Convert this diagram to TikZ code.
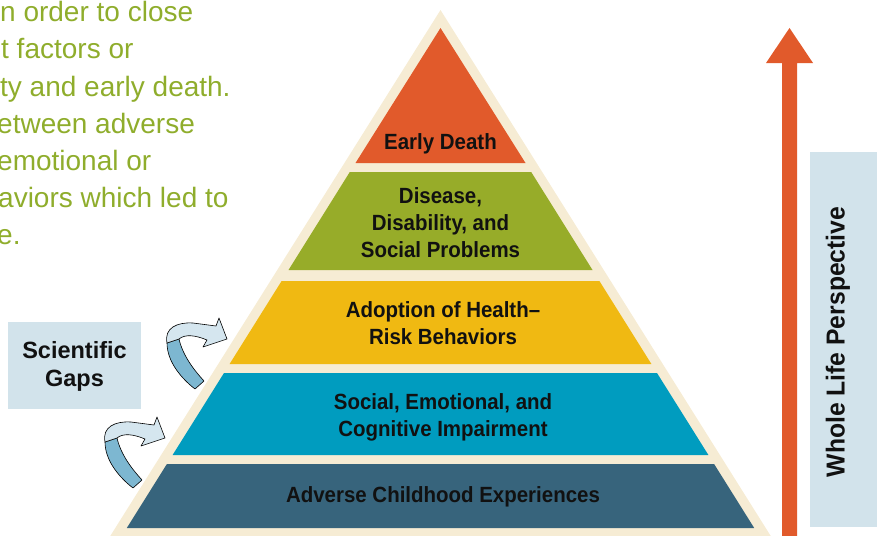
\documentclass[tikz,border=0pt]{standalone}
\usepackage{fontspec}
\setmainfont{Liberation Sans}
\newfontfamily\labelfont[FakeStretch=0.93]{Liberation Sans}
\newfontfamily\sidefont[FakeStretch=0.95]{Liberation Sans}
\begin{document}
\begin{tikzpicture}[x=1pt,y=-1pt,
  cream/.style={fill=creamc},
  tierlabel/.style={font=\labelfont\bfseries\fontsize{22}{27}\selectfont,
    text=inkc, align=center, inner sep=0pt},
  boxlabel/.style={font=\bfseries\fontsize{23.5}{28}\selectfont,
    text=inkc, align=center, inner sep=0pt},
  prose/.style={font=\fontsize{28}{37}\selectfont, text=prosec,
    anchor=base west, inner sep=0pt},
  gapbody/.style={fill=gapdark, draw=black, line width=0.6pt, line join=round},
  gaptop/.style={fill=gaplight, draw=black, line width=0.6pt, line join=round}]

\definecolor{creamc}{HTML}{F6ECD4}
\definecolor{redc}{HTML}{E15A2B}
\definecolor{greenc}{HTML}{97AC29}
\definecolor{yellowc}{HTML}{F0B912}
\definecolor{bluec}{HTML}{009CBF}
\definecolor{slatec}{HTML}{37647C}
\definecolor{panelc}{HTML}{D2E3EB}
\definecolor{inkc}{HTML}{111111}
\definecolor{prosec}{HTML}{8FAD2C}
\definecolor{gapdark}{HTML}{7DB7D1}
\definecolor{gaplight}{HTML}{D5E6EF}

\useasboundingbox (0,0) rectangle (877,535);

% introductory paragraph, running in from the left edge
\begin{scope}
  \clip (0,0) rectangle (877,535);
  \node[prose] (p1) at (0,22)  {n order to close};
  \node[prose] (p2) at (1,59)  {t factors or};
  \node[prose] (p3) at (0,96)  {ty and early death.};
  \node[prose] (p4) at (-3,133) {etween adverse};
  \node[prose] (p5) at (-3,170) {emotional or};
  \node[prose] (p6) at (-2,207) {aviors which led to};
  \node[prose] (p7) at (-3,244) {e.};
\end{scope}

% pyramid: cream backing and five tiers
\fill[cream] (440.5,10) -- (772,538) -- (109,538) -- cycle;
\fill[redc]    (440.5,28) -- (525.5,163) -- (355.5,163) -- cycle;
\fill[greenc]  (349.8,172) -- (531.2,172) -- (592.5,270) -- (288.5,270) -- cycle;
\fill[yellowc] (281.6,281) -- (599.4,281) -- (651.4,364) -- (229.6,364) -- cycle;
\fill[bluec]   (224,373) -- (657,373) -- (708.4,455) -- (172.6,455) -- cycle;
\fill[slatec]  (166.9,464) -- (714.1,464) -- (754.2,528) -- (126.8,528) -- cycle;

\node[tierlabel] (t5) at (440.5,144) {Early Death};
\node[tierlabel] (t4) at (440.5,223) {Disease,\\Disability, and\\Social Problems};
\node[tierlabel] (t3) at (443,323) {Adoption of Health\textendash\\Risk Behaviors};
\node[tierlabel] (t2) at (443,417) {Social, Emotional, and\\Cognitive Impairment};
\node[tierlabel] (t1) at (443,497) {Adverse Childhood Experiences};

% scientific gaps panel
\fill[panelc] (8,322) rectangle (141,409);
\node[boxlabel] (gaps) at (74.5,366) {Scientific\\Gaps};

% curved gap arrows
\foreach \ox/\oy in {155/310, 93/409} {
  \begin{scope}[shift={(\ox,\oy)}]
    \path[gapbody] (12,33) .. controls (12,52) and (27,69) .. (40,79)
      -- (49,71) .. controls (39,60) and (28,46) .. (24,29) -- cycle;
    \path[gaptop] (12,33) .. controls (9,18) and (22,12) .. (38,13)
      -- (61,16) -- (64,8) -- (72,29) -- (48,37) -- (52,30)
      .. controls (40,25) and (30,24) .. (24,29) -- cycle;
  \end{scope}
}

% whole life perspective arrow and panel
\fill[redc] (782,538) -- (782,63) -- (766,63) -- (789.5,28) -- (813,63)
  -- (797,63) -- (797,538) -- cycle;
\fill[panelc] (810,152) rectangle (877,527);
\node[font=\sidefont\bfseries\fontsize{26}{30}\selectfont, text=inkc,
  rotate=90, inner sep=0pt] (whole) at (838,342) {Whole Life Perspective};

\end{tikzpicture}
\end{document}
